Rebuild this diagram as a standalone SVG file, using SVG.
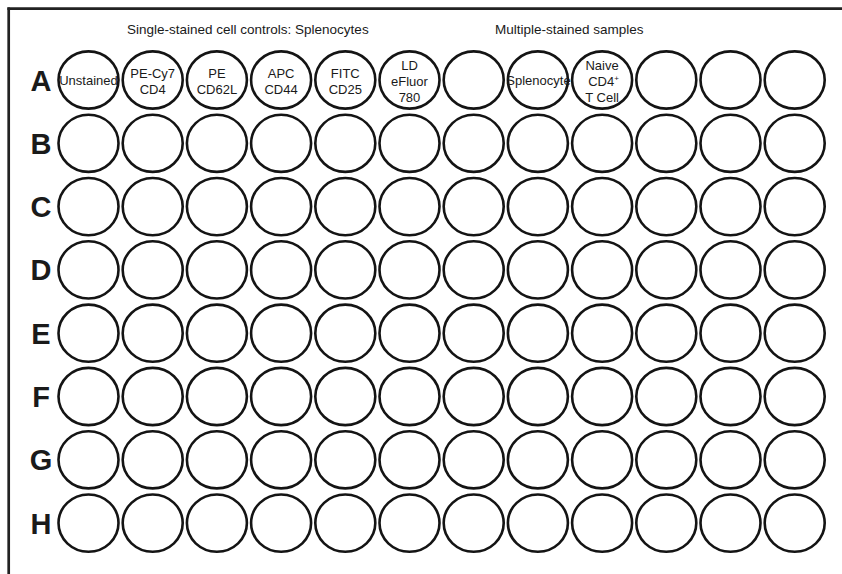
<svg xmlns="http://www.w3.org/2000/svg" width="842" height="574" viewBox="0 0 842 574">
<style>
.w{fill:none;stroke:#141414;stroke-width:2.6}
.t{font-family:"Liberation Sans",Arial,sans-serif;font-size:13px;fill:#1a1a1a;text-anchor:middle}
.h{font-family:"Liberation Sans",Arial,sans-serif;font-size:13.5px;fill:#1a1a1a}
.r{font-family:"Liberation Sans",Arial,sans-serif;font-size:29px;font-weight:bold;fill:#1a1a1a;text-anchor:middle}
.f{stroke:#222;stroke-width:2.7;fill:none}
</style>
<rect width="842" height="574" fill="#fff"/>
<g id="frame">
<line class="f" x1="7.4" y1="8.7" x2="842" y2="8.7"/>
<line class="f" x1="8.7" y1="7.4" x2="8.7" y2="574"/>
</g>
<g id="headers">
<text class="h" x="127" y="34.3">Single-stained cell controls: Splenocytes</text>
<text class="h" x="495" y="34.3">Multiple-stained samples</text>
</g>
<g id="row-labels">
<text class="r" x="41" y="90.5">A</text>
<text class="r" x="41" y="153.8">B</text>
<text class="r" x="41" y="217.1">C</text>
<text class="r" x="41" y="280.4">D</text>
<text class="r" x="41" y="343.7">E</text>
<text class="r" x="41" y="407">F</text>
<text class="r" x="41" y="470.3">G</text>
<text class="r" x="41" y="533.6">H</text>
</g>
<g id="connectors"/>
<g id="wells">
<g id="A1"><ellipse class="w" cx="88.5" cy="80" rx="30" ry="28.6"/><text class="t" x="88.5" y="85">Unstained</text></g>
<g id="A2"><ellipse class="w" cx="152.7" cy="80" rx="30" ry="28.6"/><text class="t" x="152.7" y="78">PE-Cy7</text><text class="t" x="152.7" y="94">CD4</text></g>
<g id="A3"><ellipse class="w" cx="216.9" cy="80" rx="30" ry="28.6"/><text class="t" x="216.9" y="78">PE</text><text class="t" x="216.9" y="94">CD62L</text></g>
<g id="A4"><ellipse class="w" cx="281.1" cy="80" rx="30" ry="28.6"/><text class="t" x="281.1" y="78">APC</text><text class="t" x="281.1" y="94">CD44</text></g>
<g id="A5"><ellipse class="w" cx="345.3" cy="80" rx="30" ry="28.6"/><text class="t" x="345.3" y="78">FITC</text><text class="t" x="345.3" y="94">CD25</text></g>
<g id="A6"><ellipse class="w" cx="409.5" cy="80" rx="30" ry="28.6"/><text class="t" x="409.5" y="70">LD</text><text class="t" x="409.5" y="86">eFluor</text><text class="t" x="409.5" y="102">780</text></g>
<g id="A7"><ellipse class="w" cx="473.7" cy="80" rx="30" ry="28.6"/></g>
<g id="A8"><ellipse class="w" cx="537.9" cy="80" rx="30" ry="28.6"/><text class="t" x="538.5" y="85">Splenocyte</text></g>
<g id="A9"><ellipse class="w" cx="602.1" cy="80" rx="30" ry="28.6"/><text class="t" x="602.1" y="70">Naive</text><text class="t" x="603.5" y="86">CD4<tspan font-size="8" dy="-5">+</tspan></text><text class="t" x="602.1" y="102">T Cell</text></g>
<g id="A10"><ellipse class="w" cx="666.3" cy="80" rx="30" ry="28.6"/></g>
<g id="A11"><ellipse class="w" cx="730.5" cy="80" rx="30" ry="28.6"/></g>
<g id="A12"><ellipse class="w" cx="794.7" cy="80" rx="30" ry="28.6"/></g>

<g id="B1"><ellipse class="w" cx="88.5" cy="143.3" rx="30" ry="28.6"/></g>
<g id="B2"><ellipse class="w" cx="152.7" cy="143.3" rx="30" ry="28.6"/></g>
<g id="B3"><ellipse class="w" cx="216.9" cy="143.3" rx="30" ry="28.6"/></g>
<g id="B4"><ellipse class="w" cx="281.1" cy="143.3" rx="30" ry="28.6"/></g>
<g id="B5"><ellipse class="w" cx="345.3" cy="143.3" rx="30" ry="28.6"/></g>
<g id="B6"><ellipse class="w" cx="409.5" cy="143.3" rx="30" ry="28.6"/></g>
<g id="B7"><ellipse class="w" cx="473.7" cy="143.3" rx="30" ry="28.6"/></g>
<g id="B8"><ellipse class="w" cx="537.9" cy="143.3" rx="30" ry="28.6"/></g>
<g id="B9"><ellipse class="w" cx="602.1" cy="143.3" rx="30" ry="28.6"/></g>
<g id="B10"><ellipse class="w" cx="666.3" cy="143.3" rx="30" ry="28.6"/></g>
<g id="B11"><ellipse class="w" cx="730.5" cy="143.3" rx="30" ry="28.6"/></g>
<g id="B12"><ellipse class="w" cx="794.7" cy="143.3" rx="30" ry="28.6"/></g>

<g id="C1"><ellipse class="w" cx="88.5" cy="206.6" rx="30" ry="28.6"/></g>
<g id="C2"><ellipse class="w" cx="152.7" cy="206.6" rx="30" ry="28.6"/></g>
<g id="C3"><ellipse class="w" cx="216.9" cy="206.6" rx="30" ry="28.6"/></g>
<g id="C4"><ellipse class="w" cx="281.1" cy="206.6" rx="30" ry="28.6"/></g>
<g id="C5"><ellipse class="w" cx="345.3" cy="206.6" rx="30" ry="28.6"/></g>
<g id="C6"><ellipse class="w" cx="409.5" cy="206.6" rx="30" ry="28.6"/></g>
<g id="C7"><ellipse class="w" cx="473.7" cy="206.6" rx="30" ry="28.6"/></g>
<g id="C8"><ellipse class="w" cx="537.9" cy="206.6" rx="30" ry="28.6"/></g>
<g id="C9"><ellipse class="w" cx="602.1" cy="206.6" rx="30" ry="28.6"/></g>
<g id="C10"><ellipse class="w" cx="666.3" cy="206.6" rx="30" ry="28.6"/></g>
<g id="C11"><ellipse class="w" cx="730.5" cy="206.6" rx="30" ry="28.6"/></g>
<g id="C12"><ellipse class="w" cx="794.7" cy="206.6" rx="30" ry="28.6"/></g>

<g id="D1"><ellipse class="w" cx="88.5" cy="269.9" rx="30" ry="28.6"/></g>
<g id="D2"><ellipse class="w" cx="152.7" cy="269.9" rx="30" ry="28.6"/></g>
<g id="D3"><ellipse class="w" cx="216.9" cy="269.9" rx="30" ry="28.6"/></g>
<g id="D4"><ellipse class="w" cx="281.1" cy="269.9" rx="30" ry="28.6"/></g>
<g id="D5"><ellipse class="w" cx="345.3" cy="269.9" rx="30" ry="28.6"/></g>
<g id="D6"><ellipse class="w" cx="409.5" cy="269.9" rx="30" ry="28.6"/></g>
<g id="D7"><ellipse class="w" cx="473.7" cy="269.9" rx="30" ry="28.6"/></g>
<g id="D8"><ellipse class="w" cx="537.9" cy="269.9" rx="30" ry="28.6"/></g>
<g id="D9"><ellipse class="w" cx="602.1" cy="269.9" rx="30" ry="28.6"/></g>
<g id="D10"><ellipse class="w" cx="666.3" cy="269.9" rx="30" ry="28.6"/></g>
<g id="D11"><ellipse class="w" cx="730.5" cy="269.9" rx="30" ry="28.6"/></g>
<g id="D12"><ellipse class="w" cx="794.7" cy="269.9" rx="30" ry="28.6"/></g>

<g id="E1"><ellipse class="w" cx="88.5" cy="333.2" rx="30" ry="28.6"/></g>
<g id="E2"><ellipse class="w" cx="152.7" cy="333.2" rx="30" ry="28.6"/></g>
<g id="E3"><ellipse class="w" cx="216.9" cy="333.2" rx="30" ry="28.6"/></g>
<g id="E4"><ellipse class="w" cx="281.1" cy="333.2" rx="30" ry="28.6"/></g>
<g id="E5"><ellipse class="w" cx="345.3" cy="333.2" rx="30" ry="28.6"/></g>
<g id="E6"><ellipse class="w" cx="409.5" cy="333.2" rx="30" ry="28.6"/></g>
<g id="E7"><ellipse class="w" cx="473.7" cy="333.2" rx="30" ry="28.6"/></g>
<g id="E8"><ellipse class="w" cx="537.9" cy="333.2" rx="30" ry="28.6"/></g>
<g id="E9"><ellipse class="w" cx="602.1" cy="333.2" rx="30" ry="28.6"/></g>
<g id="E10"><ellipse class="w" cx="666.3" cy="333.2" rx="30" ry="28.6"/></g>
<g id="E11"><ellipse class="w" cx="730.5" cy="333.2" rx="30" ry="28.6"/></g>
<g id="E12"><ellipse class="w" cx="794.7" cy="333.2" rx="30" ry="28.6"/></g>

<g id="F1"><ellipse class="w" cx="88.5" cy="396.5" rx="30" ry="28.6"/></g>
<g id="F2"><ellipse class="w" cx="152.7" cy="396.5" rx="30" ry="28.6"/></g>
<g id="F3"><ellipse class="w" cx="216.9" cy="396.5" rx="30" ry="28.6"/></g>
<g id="F4"><ellipse class="w" cx="281.1" cy="396.5" rx="30" ry="28.6"/></g>
<g id="F5"><ellipse class="w" cx="345.3" cy="396.5" rx="30" ry="28.6"/></g>
<g id="F6"><ellipse class="w" cx="409.5" cy="396.5" rx="30" ry="28.6"/></g>
<g id="F7"><ellipse class="w" cx="473.7" cy="396.5" rx="30" ry="28.6"/></g>
<g id="F8"><ellipse class="w" cx="537.9" cy="396.5" rx="30" ry="28.6"/></g>
<g id="F9"><ellipse class="w" cx="602.1" cy="396.5" rx="30" ry="28.6"/></g>
<g id="F10"><ellipse class="w" cx="666.3" cy="396.5" rx="30" ry="28.6"/></g>
<g id="F11"><ellipse class="w" cx="730.5" cy="396.5" rx="30" ry="28.6"/></g>
<g id="F12"><ellipse class="w" cx="794.7" cy="396.5" rx="30" ry="28.6"/></g>

<g id="G1"><ellipse class="w" cx="88.5" cy="459.8" rx="30" ry="28.6"/></g>
<g id="G2"><ellipse class="w" cx="152.7" cy="459.8" rx="30" ry="28.6"/></g>
<g id="G3"><ellipse class="w" cx="216.9" cy="459.8" rx="30" ry="28.6"/></g>
<g id="G4"><ellipse class="w" cx="281.1" cy="459.8" rx="30" ry="28.6"/></g>
<g id="G5"><ellipse class="w" cx="345.3" cy="459.8" rx="30" ry="28.6"/></g>
<g id="G6"><ellipse class="w" cx="409.5" cy="459.8" rx="30" ry="28.6"/></g>
<g id="G7"><ellipse class="w" cx="473.7" cy="459.8" rx="30" ry="28.6"/></g>
<g id="G8"><ellipse class="w" cx="537.9" cy="459.8" rx="30" ry="28.6"/></g>
<g id="G9"><ellipse class="w" cx="602.1" cy="459.8" rx="30" ry="28.6"/></g>
<g id="G10"><ellipse class="w" cx="666.3" cy="459.8" rx="30" ry="28.6"/></g>
<g id="G11"><ellipse class="w" cx="730.5" cy="459.8" rx="30" ry="28.6"/></g>
<g id="G12"><ellipse class="w" cx="794.7" cy="459.8" rx="30" ry="28.6"/></g>

<g id="H1"><ellipse class="w" cx="88.5" cy="523.1" rx="30" ry="28.6"/></g>
<g id="H2"><ellipse class="w" cx="152.7" cy="523.1" rx="30" ry="28.6"/></g>
<g id="H3"><ellipse class="w" cx="216.9" cy="523.1" rx="30" ry="28.6"/></g>
<g id="H4"><ellipse class="w" cx="281.1" cy="523.1" rx="30" ry="28.6"/></g>
<g id="H5"><ellipse class="w" cx="345.3" cy="523.1" rx="30" ry="28.6"/></g>
<g id="H6"><ellipse class="w" cx="409.5" cy="523.1" rx="30" ry="28.6"/></g>
<g id="H7"><ellipse class="w" cx="473.7" cy="523.1" rx="30" ry="28.6"/></g>
<g id="H8"><ellipse class="w" cx="537.9" cy="523.1" rx="30" ry="28.6"/></g>
<g id="H9"><ellipse class="w" cx="602.1" cy="523.1" rx="30" ry="28.6"/></g>
<g id="H10"><ellipse class="w" cx="666.3" cy="523.1" rx="30" ry="28.6"/></g>
<g id="H11"><ellipse class="w" cx="730.5" cy="523.1" rx="30" ry="28.6"/></g>
<g id="H12"><ellipse class="w" cx="794.7" cy="523.1" rx="30" ry="28.6"/></g>
</g>
</svg>
